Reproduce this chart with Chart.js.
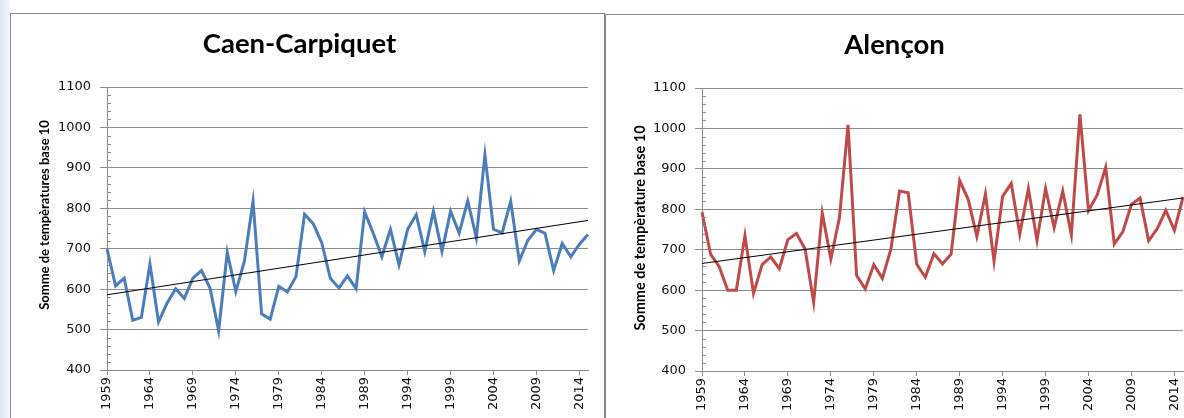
<!DOCTYPE html>
<html>
<head>
<meta charset="utf-8">
<script src="https://cdn.jsdelivr.net/npm/chart.js@4.4.0/dist/chart.umd.min.js"></script>
<style>
  html, body { margin: 0; padding: 0; }
  body { width: 1184px; height: 418px; overflow: hidden; background: #fff; position: relative; }
  .strip { position: absolute; left: 0; top: 0; width: 10px; height: 418px;
           background: linear-gradient(to right, #d9e7f4, #f3f7fb); }
  .box { position: absolute; border: 1px solid #8a8a8a; background: #fff; width: 593px; height: 420px; }
  #boxCaen { left: 10px; top: 13px; }
  #boxAlencon { left: 605px; top: 14px; }
  canvas { display: block; }
</style>
</head>
<body>
<div class="strip"></div>
<div class="box" id="boxCaen"><canvas id="caen" width="593" height="404"></canvas></div>
<div class="box" id="boxAlencon"><canvas id="alencon" width="593" height="404"></canvas></div>
<script>
var years = ['1959', '1960', '1961', '1962', '1963', '1964', '1965', '1966', '1967', '1968',
    '1969', '1970', '1971', '1972', '1973', '1974', '1975', '1976', '1977', '1978',
    '1979', '1980', '1981', '1982', '1983', '1984', '1985', '1986', '1987', '1988',
    '1989', '1990', '1991', '1992', '1993', '1994', '1995', '1996', '1997', '1998',
    '1999', '2000', '2001', '2002', '2003', '2004', '2005', '2006', '2007', '2008',
    '2009', '2010', '2011', '2012', '2013', '2014', '2015'];

// Caen-Carpiquet
var caenValues = [699, 608, 627, 523, 530, 662, 519, 566, 601, 577,
    627, 646, 602, 497, 691, 594, 670, 817, 539, 526,
    607, 593, 631, 785, 762, 715, 627, 603, 633, 601,
    791, 738, 680, 748, 660, 748, 784, 693, 793, 693,
    793, 739, 818, 727, 932, 748, 739, 817, 670, 721,
    748, 738, 646, 713, 680, 711, 735];
// linear trend, first and last year
var caenTrend = [586, 770];

// Alençon
var alenconValues = [793, 689, 658, 600, 600, 735, 592, 663, 682, 653,
    725, 740, 702, 570, 791, 677, 779, 1009, 636, 603,
    663, 629, 702, 845, 841, 664, 632, 690, 665, 689,
    871, 824, 733, 838, 672, 832, 864, 739, 851, 723,
    851, 755, 845, 737, 1035, 797, 835, 904, 714, 745,
    812, 828, 722, 752, 797, 748, 830];
var alenconTrend = [666, 828];

var gridColor = '#8c8c8c';
var tickFont = { family: 'DejaVu Sans', size: 13 };

function makeChart(id, title, axisTitle, axisFontSize, axisY, values, trend, color) {
    // y axis title + small minor ticks inside the plot
    var extras = {
        id: 'extras_' + id,
        afterDraw: function(chart) {
            var ctx = chart.ctx;
            var y = chart.scales.y;
            var area = chart.chartArea;
            ctx.save();
            ctx.strokeStyle = gridColor;
            ctx.lineWidth = 1;
            for (var v = 420; v < 1100; v += 20) {
                if (v % 100 === 0) continue;
                var py = Math.round(y.getPixelForValue(v)) + 0.5;
                ctx.beginPath();
                ctx.moveTo(area.left, py);
                ctx.lineTo(area.left + 4, py);
                ctx.stroke();
            }
            ctx.translate(34, axisY);
            ctx.rotate(-Math.PI / 2);
            ctx.fillStyle = '#000';
            ctx.textAlign = 'center';
            ctx.textBaseline = 'middle';
            ctx.font = 'bold ' + axisFontSize + 'px Lato';
            ctx.fillText(axisTitle, 0, 0);
            ctx.restore();
        }
    };

    return new Chart(document.getElementById(id).getContext('2d'), {
        type: 'line',
        data: {
            labels: years,
            datasets: [{
                data: [{ x: years[0], y: trend[0] }, { x: years[years.length - 1], y: trend[1] }],
                borderColor: '#000',
                borderWidth: 1,
                pointRadius: 0,
                order: 0
            }, {
                data: values,
                borderColor: color,
                borderWidth: 3,
                pointRadius: 0,
                tension: 0,
                order: 1
            }]
        },
        options: {
            responsive: false,
            animation: false,
            devicePixelRatio: 1,
            layout: { padding: { left: 0, right: 16, top: 0, bottom: 0 } },
            plugins: {
                legend: { display: false },
                tooltip: { enabled: false },
                title: {
                    display: true,
                    text: title,
                    color: '#000',
                    font: { family: 'Lato', weight: 'bold', size: 27.5 },
                    padding: { top: 13.5, bottom: 26.5 }
                }
            },
            scales: {
                x: {
                    type: 'category',
                    offset: false,
                    grid: { drawOnChartArea: false, tickLength: 5, color: gridColor },
                    border: { color: gridColor },
                    ticks: {
                        autoSkip: false,
                        minRotation: 90,
                        maxRotation: 90,
                        padding: 2,
                        color: '#111',
                        font: tickFont,
                        callback: function(v, i) {
                            return i % 5 === 0 ? this.getLabelForValue(v) : null;
                        }
                    },
                    afterFit: function(s) { s.height = 48; }
                },
                y: {
                    min: 400,
                    max: 1100,
                    grid: { color: gridColor, tickLength: 7 },
                    border: { color: gridColor },
                    ticks: {
                        stepSize: 100,
                        padding: 9,
                        color: '#111',
                        font: tickFont,
                        callback: function(v) { return String(v); }
                    },
                    afterFit: function(s) { s.width = 96; }
                }
            }
        },
        plugins: [extras]
    });
}

makeChart('caen', 'Caen-Carpiquet', 'Somme de tempèratures base 10', 13, 201, caenValues, caenTrend, '#4a7ebb');
makeChart('alencon', 'Alençon', 'Somme de tempèrature base 10', 14.5, 213, alenconValues, alenconTrend, '#be4b48');
</script>
</body>
</html>
